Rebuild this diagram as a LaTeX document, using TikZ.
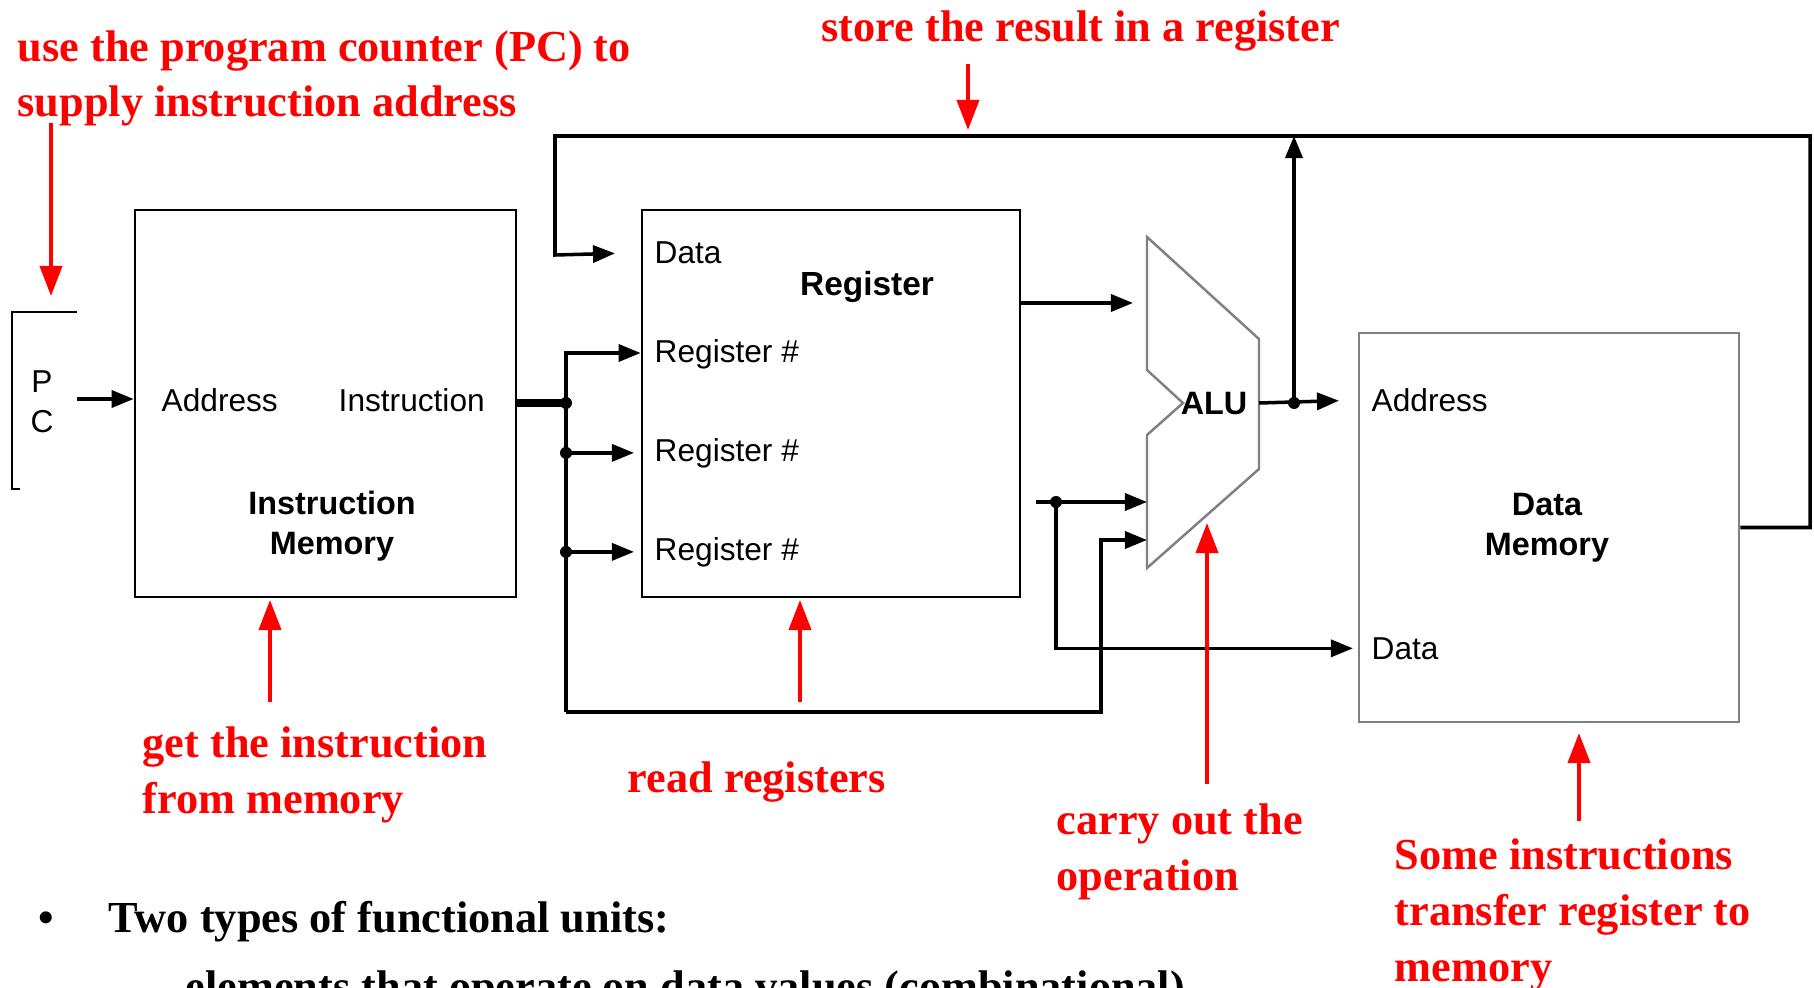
\documentclass[tikz,border=0pt]{standalone}
\usepackage{fontspec}
\setmainfont{Liberation Serif}
\setsansfont{Liberation Sans}
\usetikzlibrary{arrows.meta,positioning}

\begin{document}
\begin{tikzpicture}[
    x=0.01cm, y=-0.01cm,
    unit/.style={draw, line width=0.7pt, minimum width=3.81cm, minimum height=3.87cm},
    port/.style={font=\sffamily\fontsize{9}{11.4}\selectfont, inner sep=0pt, anchor=mid west},
    unitname/.style={font=\sffamily\bfseries\fontsize{9.2}{11.4}\selectfont, align=center, inner sep=0pt},
    note/.style={font=\bfseries\fontsize{12.6}{15.8}\selectfont, text=red, align=left, anchor=base west, inner sep=0pt},
    wire/.style={line width=1pt, -{Triangle[length=2.2mm, width=1.7mm]}},
    bus/.style={line width=1pt},
    hint/.style={red, line width=1.1pt, -{Triangle[length=3mm, width=2.2mm]}},
    dot/.style={circle, fill, inner sep=0pt, minimum size=1.2mm}
]
\path[use as bounding box, clip] (0,0) rectangle (1814,988);

\node[unit] (imem) at (325.5,403.5) {};
\node[unit, minimum width=3.78cm] (regs) at (831,403.5) {};
\node[unit, draw=gray, minimum width=3.80cm, minimum height=3.89cm] (dmem) at (1549,527.5) {};
\draw[gray, line width=0.7pt] (1147,237) -- (1259,339) -- (1259,469) -- (1147,568) -- (1147,435) -- (1183,403) -- (1147,370) -- cycle;

\node[port, anchor=center, align=center] (pc) at (42,402) {P\\C};
\node[port] (imaddr) at (161,403) {Address};
\node[port] (iminstr) at (338,403) {Instruction};
\node[unitname] (imname) at (332,526) {Instruction\\Memory};
\node[port] (rdata) at (654,255) {Data};
\node[unitname, font=\sffamily\bfseries\fontsize{9.5}{11.4}\selectfont] (rname) at (867,287) {Register};
\node[port] (rreg1) at (654,354) {Register \#};
\node[port] (rreg2) at (654,453) {Register \#};
\node[port] (rreg3) at (654,552) {Register \#};
\node[unitname] (aluname) at (1214,404) {ALU};
\node[port] (daddr) at (1371,403) {Address};
\node[port] (ddata) at (1371,651) {Data};
\node[unitname] (dname) at (1547,528) {Data\\Memory};

\coordinate (pcout) at (77,399);
\coordinate (bus) at (566,403);
\coordinate (bustop) at (566,353);
\coordinate (busbot) at (566,712);
\coordinate (top) at (555,136);
\coordinate (aluA) at (1147,303);
\coordinate (aluB) at (1147,502);
\coordinate (aluC) at (1147,540);
\coordinate (alubend) at (1101,540);
\coordinate (aluout) at (1259,403);
\coordinate (res) at (1294,403);
\coordinate (rd2) at (1036,502);
\coordinate (fork) at (1056,502);

\draw[line width=0.7pt] (77,312) -| (12,489) -- ++(8,0);
\draw[wire] (pcout) -- (pcout -| imem.west);
\draw[line width=2.2pt] (bus -| imem.east) -- (bus);
\node[dot] at (bus) {};
\draw[wire] (busbot) -- (bustop) -- (bustop -| regs.west);
\foreach \r in {rreg2,rreg3} {
    \node[dot] at (bustop |- \r.west) {};
    \draw[wire, shorten >=0.2cm] (bustop |- \r.west) -- (\r.west);
}
\draw[wire] (busbot) -| (alubend) -- (aluC);
\draw[wire, shorten >=0.39cm] (dmem.east) -| (1810,136) -| (555,255) -- (rdata.west);
\draw[wire, shorten >=0.14cm] (regs.east |- aluA) -- (aluA);
\draw[wire] (rd2) -- (aluB);
\draw[wire, shorten >=0.18cm] (fork) |- (ddata.west);
\node[dot] at (fork) {};
\draw[wire, shorten >=0.32cm] (aluout) -- (daddr.west);
\draw[wire] (res) -- (res |- top);
\node[dot] at (res) {};

\node[note] (pcnote) at (17,117) {use the program counter (PC) to\\supply instruction address};
\node[note] (storenote) at (821,42) {store the result in a register};
\node[note] (getnote) at (142,813) {get the instruction\\from memory};
\node[note] (readnote) at (627,792) {read registers};
\node[note] (carrynote) at (1056,890) {carry out the\\operation};
\node[note] (somenote) at (1394,981) {Some instructions\\transfer register to\\memory};
\node[note, text=black, anchor=base] (bullet) at (46,932) {\textbullet};
\node[note, text=black] (units) at (108,932) {Two types of functional units:};
\node[note, text=black] (elements) at (185,1001) {elements that operate on data values (combinational)};

\draw[hint] (51,123) -- (51,296);
\draw[hint] (968,64) -- (968,130);
\draw[hint] (270,702) -- (270,600);
\draw[hint] (800,702) -- (800,600);
\draw[hint] (1207,784) -- (1207,523);
\draw[hint] (1579,821) -- (1579,733);
\end{tikzpicture}
\end{document}
